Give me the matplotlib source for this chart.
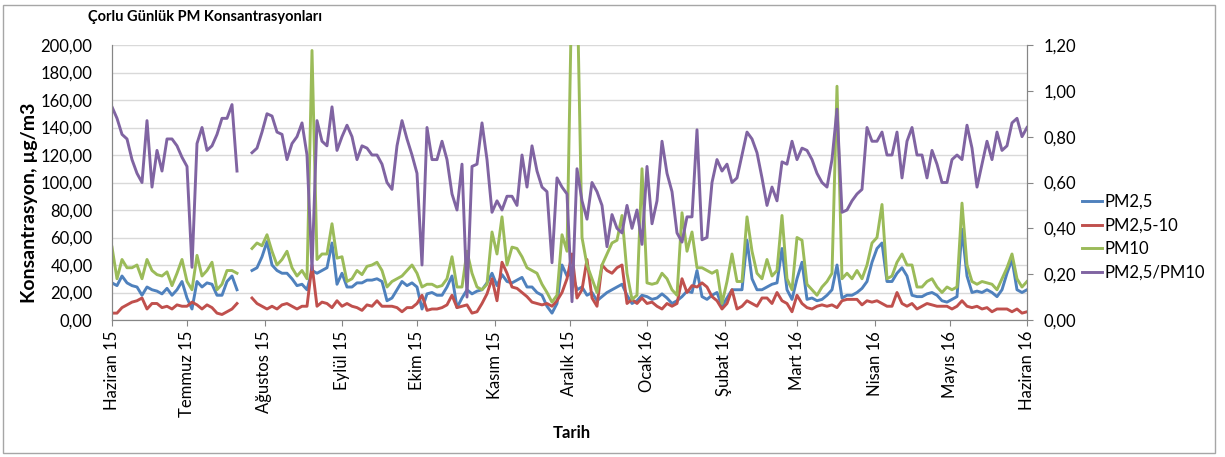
import numpy as np
import matplotlib
matplotlib.use('Agg')
import matplotlib.pyplot as plt
import pandas as pd
from matplotlib.patches import Rectangle
from matplotlib.ticker import FuncFormatter, MultipleLocator

nan = np.nan
start_date = '2015-06-01'
step = '2D'

pm25 = [27, 25, 32, 27, 25, 24, 18, 24, 22, 21, 19, 23, 18, 22, 28, 16, 8, 28, 24, 27, 26, 18, 18,
        28, 32, 22, nan, nan, 36, 38, 46, 57, 40, 36, 34, 34, 30, 25, 26, 22, 36, 34, 36, 38, 56, 26, 34,
        24, 24, 27, 27, 29, 29, 30, 28, 14, 16, 22, 28, 25, 27, 24, 8, 19, 20, 18, 18, 24, 32, 9, 16,
        22, 19, 21, 22, 27, 34, 25, 33, 28, 27, 29, 31, 24, 24, 20, 18, 10, 5, 12, 40, 32, 34, 22, 24,
        18, 20, 14, 17, 20, 22, 24, 26, 18, 12, 14, 18, 17, 15, 16, 19, 16, 12, 14, 17, 21, 20, 36, 17,
        15, 18, 20, 10, 16, 22, 22, 22, 58, 30, 22, 22, 24, 26, 27, 52, 22, 15, 30, 42, 15, 16, 14, 15,
        18, 22, 40, 16, 18, 18, 20, 23, 28, 42, 52, 56, 28, 28, 34, 38, 32, 18, 17, 17, 19, 20, 18, 14,
        13, 15, 17, 66, 32, 20, 21, 20, 22, 20, 17, 22, 34, 44, 22, 20, 22]

pm25_10 = [5, 5, 9, 11, 13, 14, 16, 8, 12, 12, 9, 10, 8, 11, 10, 10, 13, 11, 8, 11, 9, 5, 4,
           6, 8, 12, nan, nan, 16, 12, 10, 8, 10, 8, 11, 12, 10, 8, 10, 10, 40, 10, 13, 12, 9, 14, 10,
           12, 10, 9, 7, 11, 10, 14, 10, 10, 10, 9, 6, 9, 9, 12, 18, 7, 8, 8, 9, 11, 18, 9, 10,
           11, 5, 6, 12, 19, 30, 14, 42, 34, 24, 23, 20, 17, 13, 12, 11, 12, 10, 14, 20, 30, 48, 16, 22,
           44, 16, 10, 40, 36, 34, 38, 40, 12, 15, 12, 16, 12, 13, 10, 8, 12, 10, 12, 30, 20, 25, 24, 27,
           24, 17, 14, 8, 12, 22, 8, 10, 14, 12, 10, 16, 16, 12, 20, 14, 12, 6, 18, 12, 9, 8, 10, 11,
           10, 11, 9, 14, 15, 15, 15, 11, 14, 13, 14, 12, 10, 10, 20, 12, 10, 12, 8, 10, 12, 11, 10, 10,
           10, 8, 10, 14, 10, 9, 10, 8, 9, 6, 8, 8, 8, 6, 8, 5, 6]

pm10 = [53, 30, 44, 38, 38, 40, 30, 44, 36, 33, 32, 35, 25, 34, 44, 28, 22, 47, 32, 36, 42, 22, 26,
        36, 36, 34, nan, nan, 52, 56, 54, 62, 50, 40, 44, 50, 38, 32, 36, 30, 196, 44, 48, 48, 70, 45, 46,
        28, 30, 36, 33, 39, 40, 42, 36, 24, 28, 30, 32, 36, 40, 34, 24, 26, 26, 24, 25, 30, 46, 24, 24,
        50, 34, 24, 22, 26, 64, 48, 75, 40, 53, 52, 46, 38, 36, 34, 26, 20, 13, 18, 62, 50, 250, 250, 60,
        40, 30, 20, 40, 48, 56, 58, 76, 34, 15, 18, 110, 27, 26, 27, 34, 30, 22, 18, 78, 50, 64, 38, 38,
        36, 34, 36, 12, 28, 48, 28, 28, 75, 50, 34, 30, 44, 32, 36, 76, 30, 22, 60, 58, 26, 22, 18, 24,
        28, 34, 170, 30, 34, 30, 36, 30, 40, 56, 60, 84, 30, 32, 42, 48, 40, 40, 24, 24, 28, 30, 24, 20,
        24, 22, 24, 85, 40, 28, 26, 28, 27, 26, 22, 30, 38, 48, 30, 24, 28]

ratio = [0.93, 0.88, 0.81, 0.79, 0.70, 0.64, 0.60, 0.87, 0.58, 0.74, 0.65, 0.79, 0.79, 0.76, 0.71, 0.67, 0.23, 0.77, 0.84, 0.74, 0.76, 0.81, 0.88,
         0.88, 0.94, 0.65, nan, nan, 0.73, 0.75, 0.82, 0.90, 0.89, 0.82, 0.81, 0.70, 0.77, 0.80, 0.86, 0.72, 0.22, 0.87, 0.78, 0.76, 0.93, 0.74, 0.80,
         0.85, 0.80, 0.70, 0.76, 0.75, 0.72, 0.72, 0.68, 0.60, 0.57, 0.76, 0.87, 0.79, 0.72, 0.64, 0.24, 0.84, 0.70, 0.70, 0.78, 0.70, 0.55, 0.48, 0.68,
         0.10, 0.67, 0.68, 0.86, 0.70, 0.47, 0.52, 0.48, 0.54, 0.54, 0.50, 0.72, 0.58, 0.76, 0.65, 0.58, 0.56, 0.25, 0.62, 0.58, 0.55, 0.08, 0.66, 0.52,
         0.44, 0.60, 0.56, 0.50, 0.32, 0.46, 0.40, 0.38, 0.50, 0.40, 0.48, 0.33, 0.67, 0.42, 0.52, 0.78, 0.64, 0.56, 0.38, 0.34, 0.45, 0.45, 0.83, 0.35,
         0.36, 0.60, 0.70, 0.65, 0.68, 0.60, 0.62, 0.72, 0.82, 0.79, 0.73, 0.62, 0.50, 0.58, 0.52, 0.69, 0.68, 0.78, 0.70, 0.75, 0.74, 0.70, 0.64, 0.60,
         0.58, 0.70, 0.92, 0.47, 0.48, 0.52, 0.55, 0.57, 0.84, 0.78, 0.78, 0.82, 0.72, 0.72, 0.82, 0.62, 0.78, 0.84, 0.72, 0.72, 0.62, 0.74, 0.68, 0.60,
         0.60, 0.70, 0.72, 0.70, 0.85, 0.75, 0.58, 0.68, 0.78, 0.70, 0.82, 0.74, 0.76, 0.86, 0.88, 0.80, 0.84]

month_labels = ['Haziran 15', 'Temmuz 15', 'Ağustos 15', 'Eylül 15', 'Ekim 15', 'Kasım 15',
                'Aralık 15', 'Ocak 16', 'Şubat 16', 'Mart 16', 'Nisan 16', 'Mayıs 16', 'Haziran 16']
series_names = ['PM2,5', 'PM2,5-10', 'PM10', 'PM2,5/PM10']
colors = ['#4F81BD', '#C0504D', '#9BBB59', '#8064A2']

title = 'Çorlu Günlük PM Konsantrasyonları'
ylabel = 'Konsantrasyon, µg/m3'
xlabel = 'Tarih'

plt.rcParams['font.family'] = ['Lato', 'DejaVu Sans']

dates = pd.date_range(start_date, periods=len(pm25), freq=step)
month_ticks = pd.date_range('2015-06-01', '2016-06-01', freq='MS')

W, H = 1225, 457
fig = plt.figure(figsize=(W / 100, H / 100), dpi=100)
ax = fig.add_axes([112 / W, 1 - 320 / H, (1027 - 112) / W, 275 / H])
ax2 = ax.twinx()

lw = 2.1
h1, = ax.plot(dates, pm25, color=colors[0], lw=lw, label=series_names[0])
h2, = ax.plot(dates, pm25_10, color=colors[1], lw=lw, label=series_names[1])
h3, = ax.plot(dates, pm10, color=colors[2], lw=lw, label=series_names[2])
h4, = ax2.plot(dates, ratio, color=colors[3], lw=lw, label=series_names[3])

ax.set_xlim(pd.Timestamp('2015-06-01'), pd.Timestamp('2016-06-01'))
ax.set_ylim(0, 200)
ax2.set_ylim(0, 1.2)
ax.yaxis.set_major_locator(MultipleLocator(20))
ax2.yaxis.set_major_locator(MultipleLocator(0.2))
ax.yaxis.set_major_formatter(FuncFormatter(lambda v, p: f"{v:.2f}".replace('.', ',')))
ax2.yaxis.set_major_formatter(FuncFormatter(lambda v, p: f"{v:.2f}".replace('.', ',')))

ax.set_xticks(month_ticks)
ax.set_xticklabels(month_labels, rotation=90, fontsize=12)
ax.tick_params(axis='x', length=4, color='#868686', pad=4)
ax.tick_params(axis='y', length=0, labelsize=12, pad=14)
ax2.tick_params(axis='y', length=4, color='#868686', labelsize=12, pad=8)

ax.yaxis.grid(True, color='#D9D9D9', lw=1)
ax.set_axisbelow(True)
for a in (ax, ax2):
    a.spines['top'].set_visible(False)
    a.spines['left'].set_color('#868686')
    a.spines['bottom'].set_color('#868686')
    a.spines['right'].set_color('#868686')
ax.patch.set_visible(False)

fig.text(88 / W, 1 - 17 / H, title, fontsize=10.5, fontweight='bold', va='center', ha='left')
fig.text(30 / W, 1 - 203 / H, ylabel, fontsize=14, fontweight='bold', rotation=90, va='center', ha='center')
fig.text(572 / W, 1 - 433 / H, xlabel, fontsize=12, fontweight='bold', va='center', ha='center')

fig.legend(handles=[h1, h2, h3, h4], loc='upper left', bbox_to_anchor=(1082 / W, 1 - 194 / H),
           frameon=False, fontsize=12, handlelength=1.2, handletextpad=0.15, labelspacing=0.45,
           borderpad=0, borderaxespad=0)

fig.patches.append(Rectangle((3 / W, 4 / H), (1215 - 3) / W, (452 - 4) / H, transform=fig.transFigure,
                             fill=False, edgecolor='#A6A6A6', lw=1))

fig.savefig('out.png', dpi=100)
